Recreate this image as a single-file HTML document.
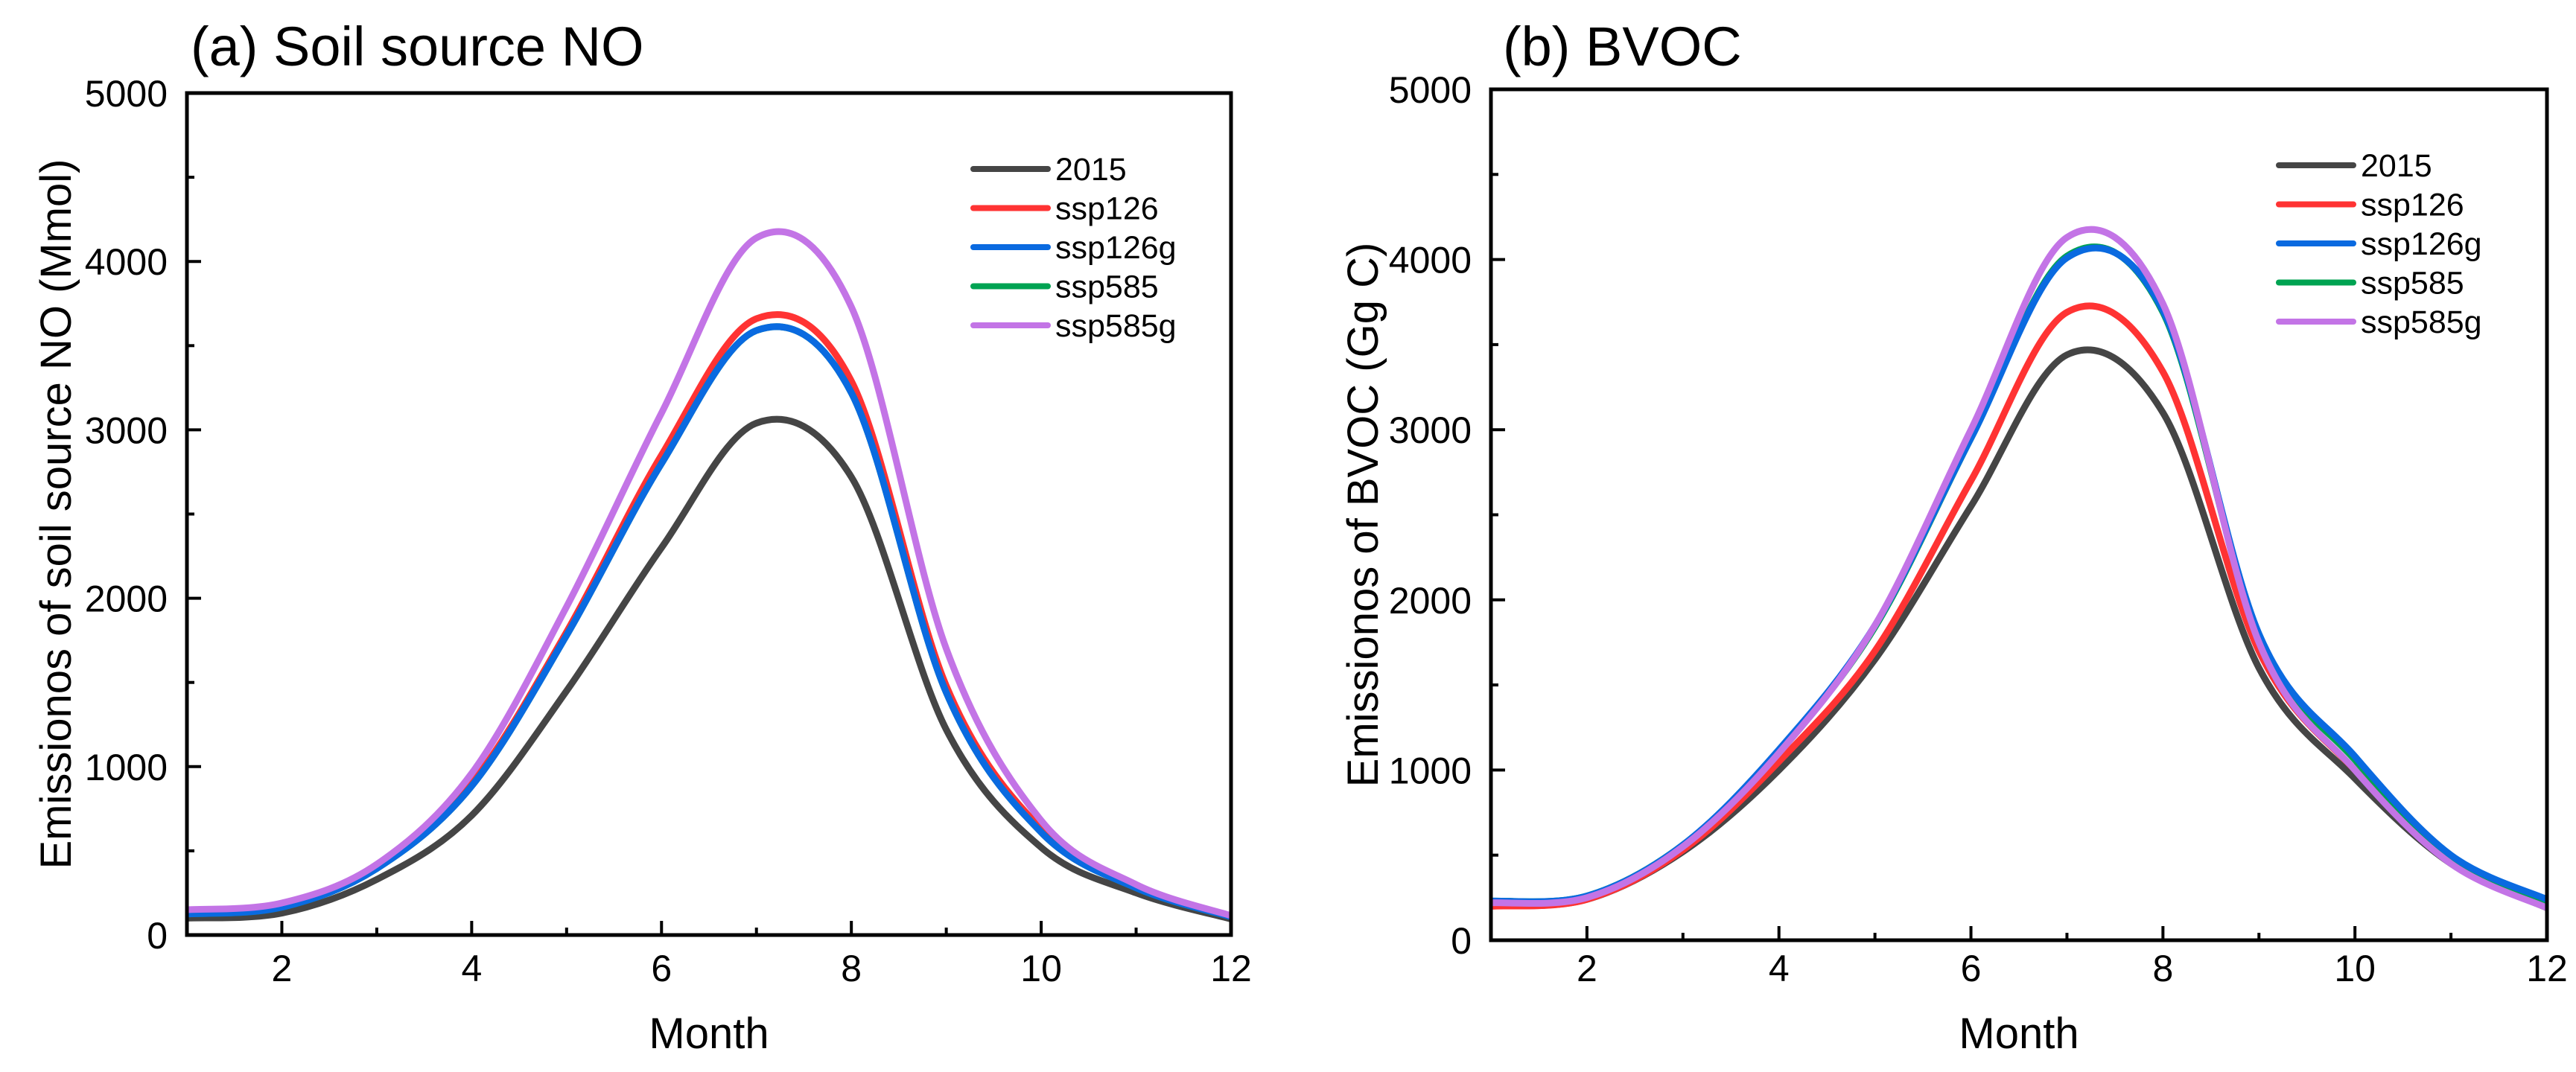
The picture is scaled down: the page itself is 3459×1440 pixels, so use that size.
<!DOCTYPE html>
<html><head><meta charset="utf-8"><style>
html,body{margin:0;padding:0;background:#fff;}
svg{display:block;font-family:"Liberation Sans",sans-serif;}
</style></head><body>
<svg id="fig" width="3459" height="1440" viewBox="0 0 3459 1440" xmlns="http://www.w3.org/2000/svg"></svg>
<script>
const months = [1,2,3,4,5,6,7,8,9,10,11,12];
const seriesNames = ["2015","ssp126","ssp126g","ssp585","ssp585g"];
const seriesColors = ["#454545","#ff3333","#0a6ae0","#00a352","#c374e6"];
const xTicks = [2,4,6,8,10,12];
const yTicks = [0,1000,2000,3000,4000,5000];
// Soil NO (Mmol)
const no2015 = [100,130,330,710,1450,2300,3040,2720,1220,520,250,95];
const noSsp126 = [130,170,400,900,1800,2850,3660,3290,1480,630,290,110];
const noSsp126g = [125,165,395,885,1780,2800,3590,3220,1440,610,280,108];
const noSsp585 = [125,165,395,885,1780,2800,3590,3220,1440,610,280,108];
const noSsp585g = [150,190,420,960,1950,3100,4140,3730,1700,680,300,115];
// BVOC (Gg C)
const bv2015 = [200,240,520,1000,1650,2550,3440,3100,1600,950,450,190];
const bvSsp126 = [200,240,530,1050,1700,2700,3690,3340,1700,1000,480,200];
const bvSsp126g = [230,260,560,1120,1850,2950,4010,3700,1800,1080,500,240];
const bvSsp585 = [230,260,560,1110,1840,2950,4020,3690,1780,1060,490,230];
const bvSsp585g = [220,250,550,1100,1850,3000,4130,3740,1750,1000,450,190];

const NS="http://www.w3.org/2000/svg";
const svg=document.getElementById('fig');
function mk(tag,attrs,parent){const e=document.createElementNS(NS,tag);for(const k in attrs)e.setAttribute(k,attrs[k]);(parent||svg).appendChild(e);return e;}

function panel(p){
  const g=mk('g',{});
  
  
  const xS=v=>p.x0+(v-1)/11*(p.x1-p.x0);
  const yS=v=>p.y0-(v/5000)*(p.y0-p.y1);
  const t=mk('text',{x:p.tx,y:88,'font-size':74,fill:'#000'},g);t.textContent=p.title;
  
  
  const order=[0,1,3,2,4];
  order.forEach(i=>{
    const vals=p.data[i];
    const pts=months.map((m,j)=>[xS(m),yS(vals[j])]);
    let d=`M${pts[0][0]},${pts[0][1]}`;
    for(let j=0;j<pts.length-1;j++){
      const p0=pts[Math.max(0,j-1)],p1=pts[j],p2=pts[j+1],p3=pts[Math.min(pts.length-1,j+2)];
      const c1=[p1[0]+(p2[0]-p0[0])/6,p1[1]+(p2[1]-p0[1])/6];
      const c2=[p2[0]-(p3[0]-p1[0])/6,p2[1]-(p3[1]-p1[1])/6];
      d+=` C${c1[0]},${c1[1]} ${c2[0]},${c2[1]} ${p2[0]},${p2[1]}`;
    }
    const path=mk('path',{d:d,fill:'none',stroke:seriesColors[i],'stroke-width':9,'stroke-linejoin':'round'},g);
    
    
  });
  const box=mk('rect',{x:p.x0,y:p.y1,width:p.x1-p.x0,height:p.y0-p.y1,fill:'none',stroke:'#000','stroke-width':5},g);
  
  
  for(let m=2;m<=12;m++){
    const maj=m%2===0;const x=xS(m);
    mk('line',{x1:x,x2:x,y1:p.y0,y2:p.y0-(maj?19:10),stroke:'#000','stroke-width':4},g);
  }
  xTicks.forEach(v=>{const tx=mk('text',{x:xS(v),y:1318,'font-size':50,'text-anchor':'middle'},g);tx.textContent=v;
    
    });
  for(let v=500;v<5000;v+=500){
    const maj=v%1000===0;const y=yS(v);
    mk('line',{x1:p.x0,x2:p.x0+(maj?19:10),y1:y,y2:y,stroke:'#000','stroke-width':4},g);
  }
  yTicks.forEach(v=>{const ty=mk('text',{x:p.x0-26,y:yS(v)+18,'font-size':50,'text-anchor':'end'},g);ty.textContent=v;
    
    });
  const xt=mk('text',{x:(p.x0+p.x1)/2,y:1408,'font-size':58,'text-anchor':'middle'},g);xt.textContent='Month';
  
  
  const yc=(p.y0+p.y1)/2;
  const yt=mk('text',{x:p.ytx,y:yc,'font-size':58,'text-anchor':'middle',transform:`rotate(-90 ${p.ytx} ${yc})`},g);yt.textContent=p.ytitle;
  
  
  seriesNames.forEach((n,i)=>{
    const ly=p.ly+i*52.5;
    const lg=mk('g',{},g);
    
    
    mk('line',{x1:p.lx,x2:p.lx+100,y1:ly,y2:ly,stroke:seriesColors[i],'stroke-width':8,'stroke-linecap':'round'},lg);
    const lt=mk('text',{x:p.lx+110,y:ly+15,'font-size':43},lg);lt.textContent=n;
  });
}
panel({id:'soil-no',x0:251,x1:1653,y0:1256,y1:125,tx:256,title:'(a) Soil source NO',ytx:95,ytitle:'Emissionos of soil source NO (Mmol)',lx:1307,ly:227,
  data:[no2015,noSsp126,noSsp126g,noSsp585,noSsp585g]});
panel({id:'bvoc',x0:2002,x1:3420,y0:1263,y1:120,tx:2018,title:'(b) BVOC',ytx:1850,ytitle:'Emissionos of BVOC (Gg C)',lx:3060,ly:222,
  data:[bv2015,bvSsp126,bvSsp126g,bvSsp585,bvSsp585g]});
</script>
</body></html>
